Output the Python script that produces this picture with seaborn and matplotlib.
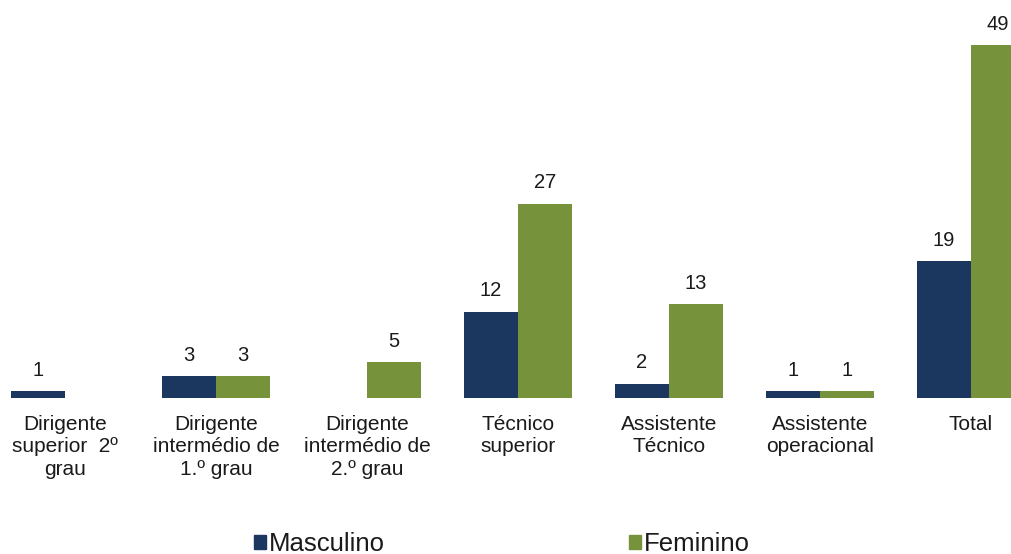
import matplotlib
matplotlib.use("Agg")
import matplotlib.pyplot as plt
import seaborn as sns
import pandas as pd

categories = ["Dirigente\nsuperior  2º\ngrau", "Dirigente\nintermédio de\n1.º grau",
              "Dirigente\nintermédio de\n2.º grau", "Técnico\nsuperior",
              "Assistente\nTécnico", "Assistente\noperacional", "Total"]
masculino = [1, 3, 0, 12, 2, 1, 19]
feminino = [0, 3, 5, 27, 13, 1, 49]
series_names = ["Masculino", "Feminino"]
colors = ["#1B365F", "#76933C"]

df = pd.DataFrame({
    "cat": categories * 2,
    "value": masculino + feminino,
    "serie": [series_names[0]] * len(categories) + [series_names[1]] * len(categories),
})

sns.set_theme(style="white")
plt.rcParams['font.family'] = ['Liberation Sans', 'DejaVu Sans']

fig = plt.figure(figsize=(10.12, 5.54), dpi=100)
W, H = 1012, 554
ax = fig.add_axes([0, (H - 398) / H, 1, 398 / H])

sns.barplot(data=df, x="cat", y="value", hue="serie", order=categories,
            hue_order=series_names, palette=colors, width=0.715, saturation=1,
            linewidth=0, edgecolor="none", ax=ax, legend=True)

for cont, vals in zip(ax.containers, [masculino, feminino]):
    ax.bar_label(cont, labels=[str(v) if v > 0 else "" for v in vals],
                 padding=8, fontsize=14.5, color="#1a1a1a")

ax.set_xlim(-65 / 151, (1012 - 65) / 151)
ax.set_ylim(0, 398 / 7.2)
ax.set_xlabel("")
ax.set_ylabel("")
ax.set_yticks([])
ax.tick_params(axis="x", length=0, pad=12, labelsize=15, labelcolor="#1a1a1a")
for lab in ax.get_xticklabels():
    lab.set_linespacing(1.25)
for s in ax.spines.values():
    s.set_visible(False)

ax.legend_.remove()
handles = [plt.Rectangle((0, 0), 1, 1, color=c) for c in colors]
fig.legend(handles, series_names, loc="center", bbox_to_anchor=(502 / W, 1 - 544 / H),
           ncol=2, frameon=False, fontsize=18.5, handlelength=0.45, handleheight=0.45,
           handletextpad=0.12, columnspacing=9.5, labelcolor="#1a1a1a",
           borderpad=0, borderaxespad=0)

fig.savefig("out.png", dpi=100)
